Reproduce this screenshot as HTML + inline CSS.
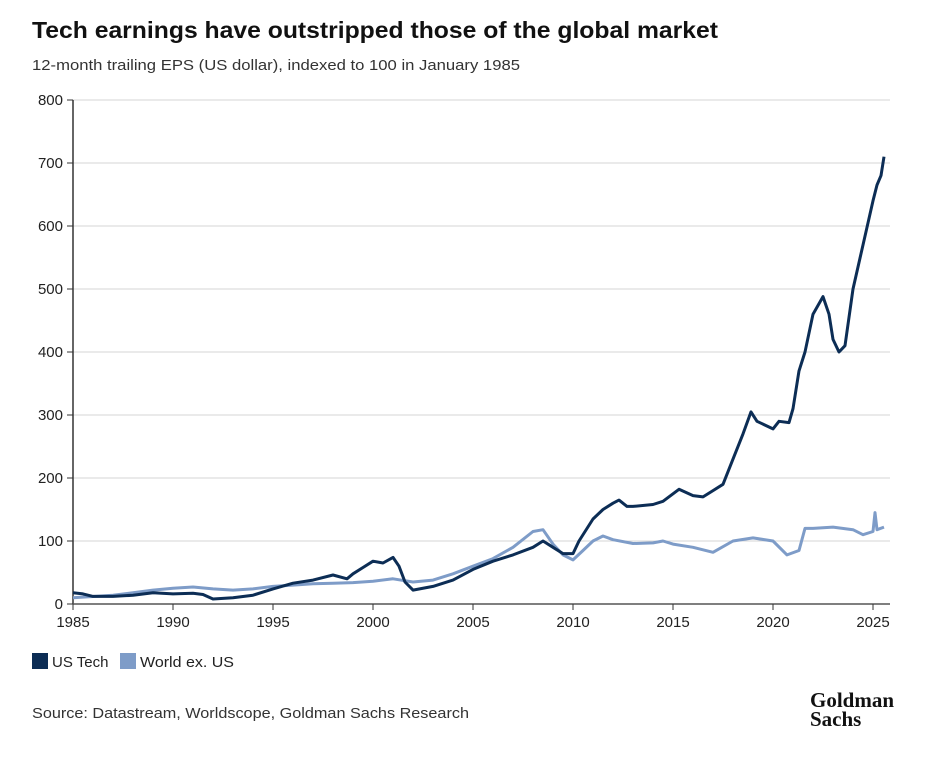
<!DOCTYPE html>
<html><head><meta charset="utf-8"><style>
body{margin:0;background:#fff;font-family:"Liberation Sans",sans-serif;}
</style></head><body>
<svg width="938" height="762" xmlns="http://www.w3.org/2000/svg">
<text x="32" y="38" font-size="23" font-weight="bold" fill="#111" textLength="686" lengthAdjust="spacingAndGlyphs">Tech earnings have outstripped those of the global market</text>
<text x="32" y="70" font-size="15" fill="#333" textLength="488" lengthAdjust="spacingAndGlyphs">12-month trailing EPS (US dollar), indexed to 100 in January 1985</text>
<g id="grid"></g>
<g id="yt"></g>
<g id="xt"></g>
<g id="lines"></g>
<rect x="32" y="653" width="16" height="16" fill="#0c2d55"/>
<text x="52" y="667" font-size="15" fill="#222">US Tech</text>
<rect x="120" y="653" width="16" height="16" fill="#7e9cc8"/>
<text x="140" y="667" font-size="15" fill="#222" textLength="94" lengthAdjust="spacingAndGlyphs">World ex. US</text>
<text x="32" y="718" font-size="15" fill="#333" textLength="437" lengthAdjust="spacingAndGlyphs">Source: Datastream, Worldscope, Goldman Sachs Research</text>
<text x="810" y="707" font-size="21" font-weight="bold" font-family="Liberation Serif,serif" fill="#111">Goldman</text>
<text x="810" y="726" font-size="21" font-weight="bold" font-family="Liberation Serif,serif" fill="#111">Sachs</text>
</svg>
<script>
const yTicks=[0,100,200,300,400,500,600,700,800];
const xTicks=[1985,1990,1995,2000,2005,2010,2015,2020,2025];
const techYears=[1985,1985.5,1986,1987,1988,1989,1990,1991,1991.5,1992,1993,1994,1995,1996,1997,1998,1998.7,1999,1999.5,2000,2000.5,2001,2001.3,2001.6,2002,2003,2004,2005,2006,2007,2008,2008.5,2009,2009.5,2010,2010.3,2011,2011.5,2012,2012.3,2012.7,2013,2014,2014.5,2015,2015.3,2016,2016.5,2017,2017.5,2018,2018.5,2018.9,2019.2,2020,2020.3,2020.8,2021,2021.3,2021.6,2022,2022.5,2022.8,2023,2023.3,2023.6,2024,2024.5,2025,2025.2,2025.4,2025.55];
const techVals=[18,16,12,12,14,18,16,17,15,8,10,14,24,33,38,46,40,48,58,68,65,74,60,35,22,28,38,55,68,78,90,100,90,80,80,100,135,150,160,165,155,155,158,163,175,182,172,170,180,190,230,270,305,290,278,290,288,310,370,400,460,488,460,420,400,410,500,570,640,665,680,710];
const worldYears=[1985,1987,1988,1989,1990,1991,1992,1993,1994,1995,1996,1997,1998,1999,2000,2001,2002,2003,2004,2005,2006,2007,2008,2008.5,2009,2009.5,2010,2010.5,2011,2011.5,2012,2013,2014,2014.5,2015,2016,2017,2018,2019,2020,2020.7,2021.3,2021.6,2022,2023,2024,2024.5,2025,2025.1,2025.2,2025.55];
const worldVals=[10,14,18,22,25,27,24,22,24,28,30,32,33,34,36,40,35,38,48,60,72,90,115,118,95,78,70,85,100,108,102,96,97,100,95,90,82,100,105,100,78,85,120,120,122,118,110,115,145,118,122];
const NS='http://www.w3.org/2000/svg';
const X0=73,X1=890,Y0=604,Y1=100;
const xs=v=>X0+(v-1985)*20;
const ys=v=>Y0-(v/800)*(Y0-Y1);
function mk(t,a,p){const e=document.createElementNS(NS,t);for(const k in a)e.setAttribute(k,a[k]);p.appendChild(e);return e;}
const grid=document.getElementById('grid'),yt=document.getElementById('yt'),xt=document.getElementById('xt'),lines=document.getElementById('lines');
yTicks.forEach(v=>{
 if(v>0){const g=mk('line',{x1:X0,x2:X1,y1:ys(v),y2:ys(v),stroke:'#d6d6d6','stroke-width':1},grid);
 
 }
 mk('line',{x1:X0-6,x2:X0,y1:ys(v),y2:ys(v),stroke:'#333'},yt);
 const t=mk('text',{x:X0-10,y:ys(v)+5,'text-anchor':'end','font-size':15,fill:'#222'},yt);t.textContent=v;
 
 
});
mk('line',{x1:X0,x2:X0,y1:Y1,y2:Y0,stroke:'#333','stroke-width':1.5},yt);
mk('line',{x1:X0,x2:X1,y1:Y0,y2:Y0,stroke:'#555','stroke-width':1.5},xt);
xTicks.forEach(v=>{
 mk('line',{x1:xs(v),x2:xs(v),y1:Y0,y2:Y0+6,stroke:'#333'},xt);
 const t=mk('text',{x:xs(v),y:Y0+23,'text-anchor':'middle','font-size':15,fill:'#222'},xt);t.textContent=v;
 
 
});
function path(xv,yv,color,name){
 const d=xv.map((x,i)=>(i?'L':'M')+xs(x).toFixed(1)+','+ys(yv[i]).toFixed(1)).join('');
 const p=mk('path',{d:d,fill:'none',stroke:color,'stroke-width':3,'stroke-linejoin':'round'},lines);
 
 
}
path(worldYears,worldVals,'#7e9cc8','line-world-ex-us');
path(techYears,techVals,'#0c2d55','line-us-tech');
</script>
</body></html>
